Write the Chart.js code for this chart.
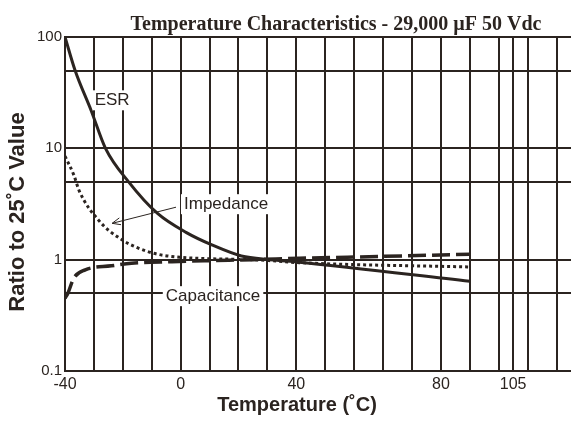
<!DOCTYPE html>
<html>
<head>
<meta charset="utf-8">
<script src="https://cdn.jsdelivr.net/npm/chart.js@4.4.1/dist/chart.umd.min.js"></script>
<style>
  html, body { margin: 0; padding: 0; background: #fff; }
  #chart { display: block; }
</style>
</head>
<body>
<canvas id="chart" width="571" height="421"></canvas>
<script>
const INK = '#2b2420';
const TITLE = 'Temperature Characteristics - 29,000 \u00b5F 50 Vdc';

// curves (x = position on the temperature grid)
const ESR_T = [-40, -36.5, -31, -26, -18, -8, 2, 11, 21, 31, 41, 100];
const ESR_V = [100, 50, 22, 10, 5, 2.6, 1.75, 1.35, 1.08, 1.0, 0.95, 0.64];

const IMP_T = [-40, -37, -35, -28, -21, -15, -8, 0, 10, 25, 31, 41, 100];
const IMP_V = [8.5, 5.8, 4.1, 2.2, 1.55, 1.28, 1.12, 1.05, 1.02, 1.0, 0.98, 0.94, 0.86];

const CAP_T = [-40, -39, -37, -33, -24, -17, -3, 10, 25, 41, 70, 100];
const CAP_V = [0.45, 0.5, 0.68, 0.81, 0.88, 0.93, 0.96, 0.98, 1.0, 1.03, 1.07, 1.12];

// grid + tick labels
const X_GRID = [-40, -30, -20, -10, 0, 10, 20, 30, 40, 50, 60, 70, 80, 90, 100, 110, 115, 120, 130];
const X_TICK_TEXT = { '-40': '-40', '0': '0', '40': '40', '90': '80', '115': '105' };
const Y_GRID = [0.1, 0.5, 1, 5, 10, 50, 100];
const Y_TICK_TEXT = { '0.1': '0.1', '1': '1', '10': '10', '100': '100' };

const toXY = (t, v) => t.map((x, i) => ({ x, y: v[i] }));

function box(ctx, text, cx, cy) {
  const w = ctx.measureText(text).width;
  ctx.fillStyle = '#fff';
  ctx.fillRect(cx - w / 2 - 3, cy - 10, w + 6, 20);
}

const notes = {
  id: 'notes',
  beforeDatasetsDraw(chart) {
    const { ctx, scales: { x, y } } = chart;
    ctx.save();
    ctx.font = '17px "Liberation Sans", Arial, sans-serif';
    box(ctx, 'ESR', x.getPixelForValue(-23.7), y.getPixelForValue(27));
    box(ctx, 'Impedance', x.getPixelForValue(15.7), y.getPixelForValue(3.15));
    box(ctx, 'Capacitance', x.getPixelForValue(11.2), y.getPixelForValue(0.47));
    ctx.restore();
  },
  afterDatasetsDraw(chart) {
    const { ctx, scales: { x, y } } = chart;
    ctx.save();
    ctx.fillStyle = INK;
    ctx.strokeStyle = INK;
    ctx.font = '17px "Liberation Sans", Arial, sans-serif';
    ctx.textAlign = 'center';
    ctx.textBaseline = 'middle';
    ctx.fillText('ESR', x.getPixelForValue(-23.7), y.getPixelForValue(27));
    ctx.fillText('Impedance', x.getPixelForValue(15.7), y.getPixelForValue(3.15));
    ctx.fillText('Capacitance', x.getPixelForValue(11.2), y.getPixelForValue(0.47));

    // arrow from label to the impedance curve
    const x0 = x.getPixelForValue(-1.6), y0 = y.getPixelForValue(2.96);
    const x1 = x.getPixelForValue(-23.7), y1 = y.getPixelForValue(2.12);
    const a = Math.atan2(y1 - y0, x1 - x0);
    ctx.lineWidth = 1;
    ctx.beginPath();
    ctx.moveTo(x0, y0);
    ctx.lineTo(x1, y1);
    ctx.moveTo(x1 - 9 * Math.cos(a - 0.4), y1 - 9 * Math.sin(a - 0.4));
    ctx.lineTo(x1, y1);
    ctx.lineTo(x1 - 9 * Math.cos(a + 0.4), y1 - 9 * Math.sin(a + 0.4));
    ctx.stroke();
    ctx.restore();
  },
  afterDraw(chart) {
    const { ctx } = chart;
    ctx.save();
    ctx.fillStyle = INK;
    ctx.textAlign = 'center';
    ctx.textBaseline = 'alphabetic';
    ctx.font = 'bold 20px "Liberation Serif", "Times New Roman", serif';
    ctx.fillText(TITLE, 336, 30);

    ctx.font = 'bold 20px "Liberation Sans", Arial, sans-serif';
    ctx.textBaseline = 'middle';
    ctx.fillText('Temperature (\u02daC)', 297, 405);

    ctx.font = 'bold 22px "Liberation Sans", Arial, sans-serif';
    ctx.translate(18, 212);
    ctx.rotate(-Math.PI / 2);
    ctx.fillText('Ratio to 25\u02daC Value', 0, 0);
    ctx.restore();
  }
};

new Chart(document.getElementById('chart'), {
  type: 'line',
  data: {
    datasets: [
      { label: 'ESR', data: toXY(ESR_T, ESR_V), borderColor: INK, borderWidth: 3, cubicInterpolationMode: 'monotone' },
      { label: 'Impedance', data: toXY(IMP_T, IMP_V), borderColor: INK, borderWidth: 3, borderDash: [3, 3], cubicInterpolationMode: 'monotone' },
      { label: 'Capacitance', data: toXY(CAP_T, CAP_V), borderColor: INK, borderWidth: 3.5, borderDash: [18, 6], cubicInterpolationMode: 'monotone' },
    ]
  },
  options: {
    responsive: false,
    animation: false,
    events: [],
    layout: { padding: { top: 37, left: 0, right: 0, bottom: 0 } },
    elements: { point: { radius: 0 } },
    plugins: { legend: { display: false }, tooltip: { enabled: false }, title: { display: false } },
    scales: {
      x: {
        type: 'linear', min: -40, max: 135,
        afterBuildTicks: s => { s.ticks = X_GRID.map(v => ({ value: v })); },
        afterFit: s => { s.height = 50; },
        ticks: {
          autoSkip: false, maxRotation: 0, padding: 4, color: INK,
          font: { family: '"Liberation Sans", Arial, sans-serif', size: 16 },
          callback: v => X_TICK_TEXT[String(v)] || ''
        },
        grid: { color: INK, lineWidth: 2, drawTicks: false },
        border: { color: INK, width: 2 }
      },
      y: {
        type: 'logarithmic', min: 0.1, max: 100,
        afterBuildTicks: s => { s.ticks = Y_GRID.map(v => ({ value: v })); },
        afterFit: s => { s.width = 65; },
        ticks: {
          autoSkip: false, padding: 3, color: INK,
          font: { family: '"Liberation Sans", Arial, sans-serif', size: 15 },
          callback: v => Y_TICK_TEXT[String(v)] || ''
        },
        grid: { color: INK, lineWidth: 2, drawTicks: false },
        border: { color: INK, width: 2 }
      }
    }
  },
  plugins: [notes]
});
</script>
</body>
</html>
